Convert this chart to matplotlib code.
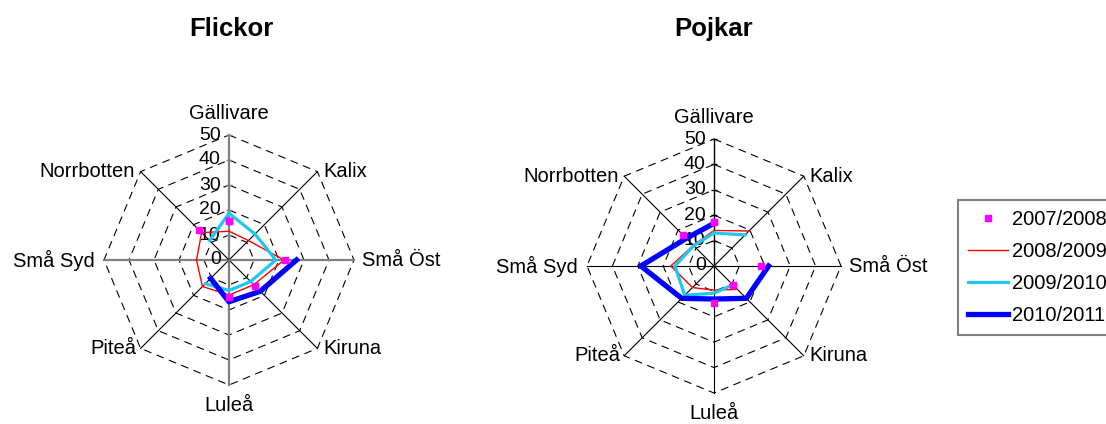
import numpy as np
import matplotlib
matplotlib.use('Agg')
import matplotlib.pyplot as plt

plt.rcParams['font.family'] = ['Liberation Sans', 'DejaVu Sans']

nan = np.nan

kommuner = ['Gällivare', 'Kalix', 'Små Öst', 'Kiruna', 'Luleå', 'Piteå', 'Små Syd', 'Norrbotten']
lasar = ['2007/2008', '2008/2009', '2009/2010', '2010/2011']
skala = [0, 10, 20, 30, 40, 50]

# flickor, ett värde per kommun (nan = saknas)
flickor_0708 = [15.5, nan, 22.5, 14.7, 14.8, nan, nan, 17.0]
flickor_0809 = [11.5, 11.0, 22.0, 14.0, 14.0, 15.0, 13.0, 15.5]
flickor_0910 = [18.7, 14.7, 18.7, 12.2, 12.2, 13.4, nan, 11.0]
flickor_1011 = [nan, nan, 27.0, 17.7, 16.7, 10.4, nan, nan]

# pojkar
pojkar_0708 = [17.3, nan, 18.4, 10.4, 14.7, nan, nan, 17.2]
pojkar_0809 = [14.0, 19.5, nan, 13.0, 9.5, 12.0, 17.0, 11.5]
pojkar_0910 = [13.0, 17.3, nan, 10.5, 10.7, 16.3, 15.4, 11.3]
pojkar_1011 = [16.8, nan, 21.5, 18.0, 13.0, 18.0, 28.8, 15.4]

vinklar = np.arange(len(kommuner)) * 2 * np.pi / len(kommuner)
sluten = np.append(vinklar, vinklar[0])

# etikettplacering per kommun: (dx, dy i punkter, ha, va)
etikett_pos = [(0, 11.5, 'center', 'baseline'),
               (4, 0, 'left', 'center'),
               (6, 0, 'left', 'center'),
               (4, 0, 'left', 'center'),
               (0, -8, 'center', 'top'),
               (-3, 0, 'right', 'center'),
               (-6.5, 0, 'right', 'center'),
               (-4, 0, 'right', 'center')]


def radar(ax, serier, gra_axlar):
    ax.set_theta_offset(np.pi / 2)
    ax.set_theta_direction(-1)
    ax.set_ylim(0, 50)
    ax.axis('off')

    # streckade ringar
    for r in skala[1:]:
        ax.plot(sluten, [r] * len(sluten), color='black', lw=0.8,
                ls=(0, (7, 5)), clip_on=False, zorder=1)
    # ekrar
    for i, t in enumerate(vinklar):
        if gra_axlar and i in (0, 2, 4, 6):
            ax.plot([t, t], [0, 50], color='#808080', lw=1.6, clip_on=False, zorder=1.5)
        elif i == 0:
            ax.plot([t, t], [0, 50], color='black', lw=1.0, clip_on=False, zorder=1.5)
        else:
            ax.plot([t, t], [0, 50], color='black', lw=0.8, clip_on=False, zorder=1.5)
    ax.plot([0] * len(skala), skala, ls='none', marker='_', ms=5, mew=1,
            color='#808080' if gra_axlar else 'black', clip_on=False)
    for r in skala:
        ax.annotate(str(r), xy=(0, r), xytext=(-6, 0), textcoords='offset points',
                    ha='right', va='center', fontsize=14)

    for namn, (dx, dy, ha, va), t in zip(kommuner, etikett_pos, vinklar):
        ax.annotate(namn, xy=(t, 50), xytext=(dx, dy), textcoords='offset points',
                    ha=ha, va=va, fontsize=14.5, annotation_clip=False)

    s0708, s0809, s0910, s1011 = [np.append(s, s[0]) for s in serier]
    ax.plot(sluten, s0809, color='#FF0000', lw=1.0, clip_on=False, zorder=3, label=lasar[1])
    ax.plot(sluten, s0910, color='#1EC8F5', lw=2.3, clip_on=False, zorder=4, label=lasar[2])
    ax.plot(sluten, s1011, color='#0000FF', lw=3.8, clip_on=False, zorder=5, label=lasar[3])
    ax.plot(sluten, s0708, ls='none', marker='s', ms=5, color='#FF00FF',
            clip_on=False, zorder=6, label=lasar[0])


fig = plt.figure(figsize=(11.06, 4.24), dpi=100)
W, H = 1106, 424

ax1 = fig.add_axes([(229 - 125) / W, (H - 260 - 125) / H, 250 / W, 250 / H], projection='polar')
radar(ax1, [flickor_0708, flickor_0809, flickor_0910, flickor_1011], True)

ax2 = fig.add_axes([(714 - 127) / W, (H - 266 - 127) / H, 254 / W, 254 / H], projection='polar')
radar(ax2, [pojkar_0708, pojkar_0809, pojkar_0910, pojkar_1011], False)

fig.text(231 / W, 1 - 29 / H, 'Flickor', ha='center', va='center', fontsize=18.5, fontweight='bold')
fig.text(714 / W, 1 - 29 / H, 'Pojkar', ha='center', va='center', fontsize=18.5, fontweight='bold')

h, l = ax1.get_legend_handles_labels()
ordning = [3, 0, 1, 2]
leg = fig.legend([h[i] for i in ordning], [l[i] for i in ordning],
                 loc='upper left', bbox_to_anchor=(958 / W, 1 - 200 / H),
                 fontsize=14.5, frameon=True, fancybox=False, framealpha=1,
                 edgecolor='#808080', handlelength=2.0, handletextpad=0.2,
                 labelspacing=0.65, borderpad=0.5, borderaxespad=0)
leg.get_frame().set_linewidth(1.5)

fig.savefig('out.png', dpi=100)
